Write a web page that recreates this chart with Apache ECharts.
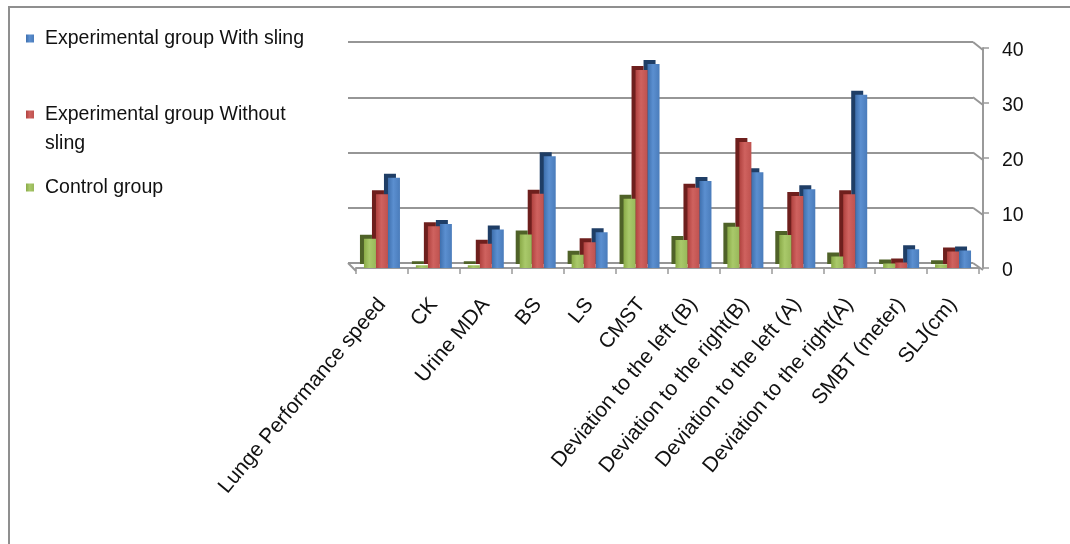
<!DOCTYPE html>
<html>
<head>
<meta charset="utf-8">
<script src="https://cdn.jsdelivr.net/npm/echarts@6/dist/echarts.min.js"></script>
<style>
html,body{margin:0;padding:0;background:#fff;}
#chart{width:1070px;height:544px;}
</style>
</head>
<body>
<div id="chart"></div>
<script>
const categories = ['Lunge Performance speed','CK','Urine MDA','BS','LS','CMST','Deviation to the left (B)','Deviation to the right(B)','Deviation to the left (A)','Deviation to the right(A)','SMBT (meter)','SLJ(cm)'];
const controlGroup = [5.3, 0.5, 0.5, 6.1, 2.4, 12.6, 5.1, 7.5, 6.0, 2.1, 0.8, 0.7];
const withoutSling = [13.4, 7.6, 4.4, 13.5, 4.7, 36.0, 14.6, 22.9, 13.1, 13.4, 1.0, 3.0];
const withSling = [16.4, 8.0, 7.0, 20.3, 6.5, 37.1, 15.8, 17.4, 14.3, 31.5, 3.4, 3.2];
const yTicks = [0, 10, 20, 30, 40];

const names = ['Experimental group With sling', 'Experimental group Without sling', 'Control group'];
const colors = {
  blue: ['#3E6FAD', '#5B8FD0', '#4A7CBB'],
  red: ['#B0423F', '#CF625F', '#BF524F'],
  green: ['#8AAA48', '#A9C96A', '#98B85A']
};
function grad(c) {
  return {type:'linear', x:0, y:0, x2:1, y2:0, colorStops:[{offset:0,color:c[0]},{offset:0.45,color:c[1]},{offset:1,color:c[2]}]};
}
const font = 'Liberation Sans, Arial, sans-serif';
const chart = echarts.init(document.getElementById('chart'), null, {renderer:'canvas'});

function legendCfg(name, top, extra) {
  return Object.assign({
    orient: 'vertical',
    left: 26,
    top: top,
    padding: 0,
    itemWidth: 8,
    itemHeight: 8,
    icon: 'rect',
    selectedMode: false,
    data: [name],
    textStyle: {fontFamily: font, fontSize: 19.5, color: '#111', lineHeight: 29, padding: [0,0,0,6]}
  }, extra || {});
}

const borderRect = {
  id: 'border', type: 'rect', silent: true, z: -10,
  shape: {x: 9, y: 7, width: 1200, height: 1000},
  style: {fill: 'none', stroke: '#8f8f8f', lineWidth: 2}
};

const option = {
  animation: false,
  backgroundColor: '#fff',
  graphic: [borderRect],
  legend: [
    legendCfg(names[0], 24),
    legendCfg(names[1], 71, {
      formatter: n => ' \nExperimental group Without\nsling'
    }),
    legendCfg(names[2], 173)
  ],
  grid: [
    {left: 356, right: 91, top: 48, bottom: 276, containLabel: false},
    {left: 348, right: 97, top: 42, bottom: 281, containLabel: false}
  ],
  xAxis: [
    {
      type: 'category', gridIndex: 0, data: categories, offset: 3,
      axisLine: {show: true, lineStyle: {color: '#9a9a9a', width: 2}},
      axisTick: {show: true, length: 6, lineStyle: {color: '#9a9a9a', width: 1.5}},
      axisLabel: {rotate: 50, interval: 0, margin: 30, fontFamily: font, fontSize: 21, color: '#111'}
    },
    {
      type: 'category', gridIndex: 1, data: categories, show: false
    }
  ],
  yAxis: [
    {
      type: 'value', gridIndex: 0, position: 'right', offset: 4,
      min: yTicks[0], max: yTicks[yTicks.length-1], interval: 10,
      axisLine: {show: true, lineStyle: {color: '#9a9a9a', width: 2}},
      axisTick: {show: true, length: 6, lineStyle: {color: '#9a9a9a', width: 1.5}},
      splitLine: {show: false},
      axisLabel: {
        margin: 19, fontFamily: font, fontSize: 19.5, color: '#111',
        formatter: '{v|{value}}',
        rich: {v: {fontFamily: font, fontSize: 19.5, color: '#111', padding: [6,0,0,0]}}
      }
    },
    {
      type: 'value', gridIndex: 1, min: yTicks[0], max: yTicks[yTicks.length-1], interval: 10,
      axisLine: {show: false}, axisTick: {show: false}, axisLabel: {show: false},
      splitLine: {show: true, lineStyle: {color: '#969696', width: 2}}
    }
  ],
  series: [
    {
      name: names[2], type: 'bar', data: controlGroup, xAxisIndex: 0, yAxisIndex: 0,
      barWidth: 12, barGap: '0%', z: 4,
      itemStyle: {color: grad(colors.green), shadowColor: '#4F6228', shadowBlur: 0, shadowOffsetX: -4, shadowOffsetY: -4}
    },
    {
      name: names[1], type: 'bar', data: withoutSling, xAxisIndex: 0, yAxisIndex: 0,
      barWidth: 12, barGap: '0%', z: 3,
      itemStyle: {color: grad(colors.red), shadowColor: '#6E1F1D', shadowBlur: 0, shadowOffsetX: -4, shadowOffsetY: -4}
    },
    {
      name: names[0], type: 'bar', data: withSling, xAxisIndex: 0, yAxisIndex: 0,
      barWidth: 12, barGap: '0%', z: 2,
      itemStyle: {color: grad(colors.blue), shadowColor: '#1F3E66', shadowBlur: 0, shadowOffsetX: -4, shadowOffsetY: -4}
    }
  ]
};
chart.setOption(option);

// 3D wall connectors: from back-wall gridline ends to the front value axis
try {
  const model = chart.getModel();
  const r0 = model.getComponent('grid', 0).coordinateSystem.getRect();
  const r1 = model.getComponent('grid', 1).coordinateSystem.getRect();
  const axisX = r0.x + r0.width + 4;
  const lines = yTicks.map((v, i) => {
    const yb = chart.convertToPixel({yAxisIndex: 1}, v);
    const yf = chart.convertToPixel({yAxisIndex: 0}, v) + 2;
    return {
      id: 'conn' + i, type: 'line', silent: true, z: 1,
      shape: {x1: r1.x + r1.width, y1: yb, x2: axisX, y2: yf},
      style: {stroke: '#969696', lineWidth: 2}
    };
  });
  const yb0 = chart.convertToPixel({yAxisIndex: 1}, 0);
  const yf0 = chart.convertToPixel({yAxisIndex: 0}, 0) + 3;
  lines.push({
    id: 'floorLeft', type: 'line', silent: true, z: 1,
    shape: {x1: r1.x, y1: yb0, x2: r0.x, y2: yf0},
    style: {stroke: '#969696', lineWidth: 2}
  });
  chart.setOption({graphic: [borderRect].concat(lines)});
} catch (e) {}
</script>
</body>
</html>
